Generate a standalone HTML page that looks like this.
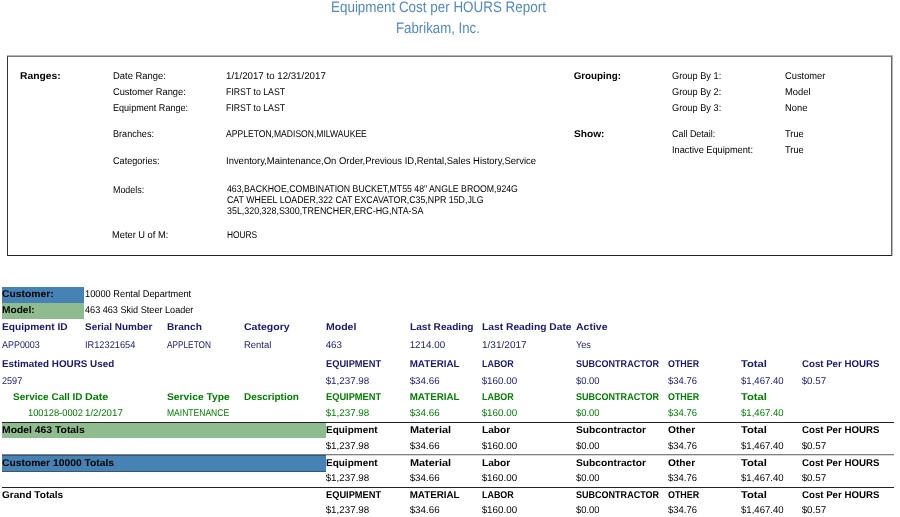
<!DOCTYPE html>
<html><head><meta charset="utf-8"><title>Equipment Cost per HOURS Report</title><style>
html,body{margin:0;padding:0;background:#fff;}
body{width:900px;height:517px;position:relative;overflow:hidden;}
.t{position:absolute;font-family:"Liberation Sans",sans-serif;text-rendering:geometricPrecision;white-space:pre;line-height:1;transform-origin:0 0;}
.b{font-weight:bold;}
.r{position:absolute;}
.L{position:absolute;left:0;top:0;width:900px;height:517px;will-change:transform;}
</style></head><body>
<div class="r" style="left:7px;top:55px;width:885px;height:1px;background:#b4b4b4;"></div>
<div class="r" style="left:892px;top:55px;width:1px;height:201px;background:#b8b8b8;"></div>
<div class="r" style="left:7px;top:56px;width:885px;height:200px;box-sizing:border-box;border-style:solid;border-width:1px;border-color:#787878 #666 #222 #333;"></div>
<div class="r" style="left:2px;top:287px;width:82px;height:16px;background:#4682b4;"></div>
<div class="r" style="left:2px;top:303px;width:82px;height:16px;background:#8fbc8f;"></div>
<div class="r" style="left:2px;top:422px;width:892px;height:1px;background:#222;"></div>
<div class="r" style="left:2px;top:423px;width:324px;height:15px;background:#8fbc8f;"></div>
<div class="r" style="left:2px;top:454px;width:892px;height:1px;background:#808080;"></div>
<div class="r" style="left:2px;top:455px;width:892px;height:1px;background:#d8d8d8;"></div>
<div class="r" style="left:2px;top:455px;width:324px;height:16px;background:#4682b4;"></div>
<div class="r" style="left:2px;top:455px;width:324px;height:1px;background:#2f5a82;"></div>
<div class="r" style="left:2px;top:471px;width:324px;height:1px;background:#3a5570;"></div>
<div class="r" style="left:2px;top:487px;width:892px;height:1px;background:#222;"></div>

<div class="L">
<div class="t" style="left:331.09px;top:0.00px;font-size:15.2px;color:#5089c0;transform:scaleX(0.884);">Equipment Cost per HOURS Report</div>
<div class="t" style="left:396.10px;top:21.00px;font-size:15.2px;color:#5089c0;transform:scaleX(0.872);">Fabrikam, Inc.</div>
<div class="t b" style="left:19.63px;top:72.00px;font-size:9.8px;transform:scaleX(1.054);">Ranges:</div>
<div class="t" style="left:112.71px;top:72.00px;font-size:9.8px;transform:scaleX(0.962);">Date Range:</div>
<div class="t" style="left:225.69px;top:72.00px;font-size:9.8px;transform:scaleX(0.990);">1/1/2017 to 12/31/2017</div>
<div class="t b" style="left:573.68px;top:72.00px;font-size:9.8px;">Grouping:</div>
<div class="t" style="left:671.73px;top:72.00px;font-size:9.8px;transform:scaleX(0.941);">Group By 1:</div>
<div class="t" style="left:784.72px;top:72.00px;font-size:9.8px;transform:scaleX(0.951);">Customer</div>
<div class="t" style="left:112.73px;top:88.00px;font-size:9.8px;transform:scaleX(0.947);">Customer Range:</div>
<div class="t" style="left:225.78px;top:88.00px;font-size:9.8px;transform:scaleX(0.892);">FIRST to LAST</div>
<div class="t" style="left:671.73px;top:88.00px;font-size:9.8px;transform:scaleX(0.941);">Group By 2:</div>
<div class="t" style="left:784.72px;top:88.00px;font-size:9.8px;transform:scaleX(0.960);">Model</div>
<div class="t" style="left:112.75px;top:104.00px;font-size:9.8px;transform:scaleX(0.925);">Equipment Range:</div>
<div class="t" style="left:225.78px;top:104.00px;font-size:9.8px;transform:scaleX(0.892);">FIRST to LAST</div>
<div class="t" style="left:671.73px;top:104.00px;font-size:9.8px;transform:scaleX(0.941);">Group By 3:</div>
<div class="t" style="left:784.72px;top:104.00px;font-size:9.8px;transform:scaleX(0.955);">None</div>
<div class="t" style="left:112.74px;top:130.00px;font-size:9.8px;transform:scaleX(0.930);">Branches:</div>
<div class="t" style="left:225.79px;top:130.00px;font-size:9.8px;transform:scaleX(0.875);">APPLETON,MADISON,MILWAUKEE</div>
<div class="t b" style="left:573.65px;top:130.00px;font-size:9.8px;transform:scaleX(1.036);">Show:</div>
<div class="t" style="left:671.76px;top:130.00px;font-size:9.8px;transform:scaleX(0.913);">Call Detail:</div>
<div class="t" style="left:784.73px;top:130.00px;font-size:9.8px;transform:scaleX(0.947);">True</div>
<div class="t" style="left:671.73px;top:146.00px;font-size:9.8px;transform:scaleX(0.941);">Inactive Equipment:</div>
<div class="t" style="left:784.73px;top:146.00px;font-size:9.8px;transform:scaleX(0.947);">True</div>
<div class="t" style="left:112.74px;top:157.00px;font-size:9.8px;transform:scaleX(0.929);">Categories:</div>
<div class="t" style="left:225.71px;top:157.00px;font-size:9.8px;transform:scaleX(0.966);">Inventory,Maintenance,On Order,Previous ID,Rental,Sales History,Service</div>
<div class="t" style="left:112.76px;top:186.00px;font-size:9.8px;transform:scaleX(0.909);">Models:</div>
<div class="t" style="left:226.78px;top:185.00px;font-size:9.8px;transform:scaleX(0.892);">463,BACKHOE,COMBINATION BUCKET,MT55 48&quot; ANGLE BROOM,924G</div>
<div class="t" style="left:226.77px;top:196.00px;font-size:9.8px;transform:scaleX(0.898);">CAT WHEEL LOADER,322 CAT EXCAVATOR,C35,NPR 15D,JLG</div>
<div class="t" style="left:226.76px;top:207.00px;font-size:9.8px;transform:scaleX(0.907);">35L,320,328,S300,TRENCHER,ERC-HG,NTA-SA</div>
<div class="t" style="left:111.73px;top:231.00px;font-size:9.8px;transform:scaleX(0.948);">Meter U of M:</div>
<div class="t" style="left:226.81px;top:231.00px;font-size:9.8px;transform:scaleX(0.853);">HOURS</div>
<div class="t b" style="left:2.13px;top:290.00px;font-size:9.8px;transform:scaleX(1.053);">Customer:</div>
<div class="t" style="left:84.73px;top:290.00px;font-size:9.8px;transform:scaleX(0.946);">10000 Rental Department</div>
<div class="t b" style="left:2.14px;top:306.00px;font-size:9.8px;transform:scaleX(1.037);">Model:</div>
<div class="t" style="left:84.74px;top:306.00px;font-size:9.8px;transform:scaleX(0.930);">463 463 Skid Steer Loader</div>
<div class="t b" style="left:2.14px;top:323.00px;font-size:9.8px;color:#191970;transform:scaleX(1.040);">Equipment ID</div>
<div class="t b" style="left:84.66px;top:323.00px;font-size:9.8px;color:#191970;transform:scaleX(1.015);">Serial Number</div>
<div class="t b" style="left:166.65px;top:323.00px;font-size:9.8px;color:#191970;transform:scaleX(1.031);">Branch</div>
<div class="t b" style="left:243.61px;top:323.00px;font-size:9.8px;color:#191970;transform:scaleX(1.073);">Category</div>
<div class="t b" style="left:325.61px;top:323.00px;font-size:9.8px;color:#191970;transform:scaleX(1.074);">Model</div>
<div class="t b" style="left:409.65px;top:323.00px;font-size:9.8px;color:#191970;transform:scaleX(1.033);">Last Reading</div>
<div class="t b" style="left:481.63px;top:323.00px;font-size:9.8px;color:#191970;transform:scaleX(1.048);">Last Reading Date</div>
<div class="t b" style="left:575.61px;top:323.00px;font-size:9.8px;color:#191970;transform:scaleX(1.071);">Active</div>
<div class="t" style="left:2.26px;top:341.00px;font-size:9.8px;color:#191970;transform:scaleX(0.912);">APP0003</div>
<div class="t" style="left:84.73px;top:341.00px;font-size:9.8px;color:#191970;transform:scaleX(0.942);">IR12321654</div>
<div class="t" style="left:166.82px;top:341.00px;font-size:9.8px;color:#191970;transform:scaleX(0.843);">APPLETON</div>
<div class="t" style="left:243.71px;top:341.00px;font-size:9.8px;color:#191970;transform:scaleX(0.963);">Rental</div>
<div class="t" style="left:325.68px;top:341.00px;font-size:9.8px;color:#191970;">463</div>
<div class="t" style="left:409.68px;top:341.00px;font-size:9.8px;color:#191970;">1214.00</div>
<div class="t" style="left:481.66px;top:341.00px;font-size:9.8px;color:#191970;transform:scaleX(1.024);">1/31/2017</div>
<div class="t" style="left:575.74px;top:341.00px;font-size:9.8px;color:#191970;transform:scaleX(0.933);">Yes</div>
<div class="t b" style="left:2.17px;top:360.00px;font-size:9.8px;color:#191970;transform:scaleX(1.005);">Estimated HOURS Used</div>
<div class="t b" style="left:325.73px;top:360.00px;font-size:9.8px;color:#191970;transform:scaleX(0.947);">EQUIPMENT</div>
<div class="t b" style="left:409.68px;top:360.00px;font-size:9.8px;color:#191970;">MATERIAL</div>
<div class="t b" style="left:481.76px;top:360.00px;font-size:9.8px;color:#191970;transform:scaleX(0.912);">LABOR</div>
<div class="t b" style="left:575.75px;top:360.00px;font-size:9.8px;color:#191970;transform:scaleX(0.921);">SUBCONTRACTOR</div>
<div class="t b" style="left:667.76px;top:360.00px;font-size:9.8px;color:#191970;transform:scaleX(0.909);">OTHER</div>
<div class="t b" style="left:740.55px;top:360.00px;font-size:9.8px;color:#191970;transform:scaleX(1.143);">Total</div>
<div class="t b" style="left:801.69px;top:360.00px;font-size:9.8px;color:#191970;transform:scaleX(0.987);">Cost Per HOURS</div>
<div class="t" style="left:2.24px;top:377.00px;font-size:9.8px;color:#191970;transform:scaleX(0.929);">2597</div>
<div class="t" style="left:325.68px;top:377.00px;font-size:9.8px;color:#191970;">$1,237.98</div>
<div class="t" style="left:409.68px;top:377.00px;font-size:9.8px;color:#191970;">$34.66</div>
<div class="t" style="left:481.68px;top:377.00px;font-size:9.8px;color:#191970;">$160.00</div>
<div class="t" style="left:575.72px;top:377.00px;font-size:9.8px;color:#191970;transform:scaleX(0.958);">$0.00</div>
<div class="t" style="left:667.71px;top:377.00px;font-size:9.8px;color:#191970;transform:scaleX(0.966);">$34.76</div>
<div class="t" style="left:740.70px;top:377.00px;font-size:9.8px;color:#191970;transform:scaleX(0.977);">$1,467.40</div>
<div class="t" style="left:801.68px;top:377.00px;font-size:9.8px;color:#191970;">$0.57</div>
<div class="t b" style="left:13.16px;top:393.00px;font-size:9.8px;color:#008000;transform:scaleX(1.022);">Service Call ID</div>
<div class="t b" style="left:84.59px;top:393.00px;font-size:9.8px;color:#008000;transform:scaleX(1.100);">Date</div>
<div class="t b" style="left:166.63px;top:393.00px;font-size:9.8px;color:#008000;transform:scaleX(1.051);">Service Type</div>
<div class="t b" style="left:243.66px;top:393.00px;font-size:9.8px;color:#008000;transform:scaleX(1.019);">Description</div>
<div class="t b" style="left:325.73px;top:393.00px;font-size:9.8px;color:#008000;transform:scaleX(0.947);">EQUIPMENT</div>
<div class="t b" style="left:409.68px;top:393.00px;font-size:9.8px;color:#008000;">MATERIAL</div>
<div class="t b" style="left:481.76px;top:393.00px;font-size:9.8px;color:#008000;transform:scaleX(0.912);">LABOR</div>
<div class="t b" style="left:575.75px;top:393.00px;font-size:9.8px;color:#008000;transform:scaleX(0.921);">SUBCONTRACTOR</div>
<div class="t b" style="left:667.76px;top:393.00px;font-size:9.8px;color:#008000;transform:scaleX(0.909);">OTHER</div>
<div class="t b" style="left:740.55px;top:393.00px;font-size:9.8px;color:#008000;transform:scaleX(1.143);">Total</div>
<div class="t" style="left:28.42px;top:409.00px;font-size:9.8px;color:#008000;transform:scaleX(0.952);">100128-0002</div>
<div class="t" style="left:84.69px;top:409.00px;font-size:9.8px;color:#008000;transform:scaleX(0.992);">1/2/2017</div>
<div class="t" style="left:166.80px;top:409.00px;font-size:9.8px;color:#008000;transform:scaleX(0.871);">MAINTENANCE</div>
<div class="t" style="left:325.68px;top:409.00px;font-size:9.8px;color:#008000;">$1,237.98</div>
<div class="t" style="left:409.68px;top:409.00px;font-size:9.8px;color:#008000;">$34.66</div>
<div class="t" style="left:481.68px;top:409.00px;font-size:9.8px;color:#008000;">$160.00</div>
<div class="t" style="left:575.72px;top:409.00px;font-size:9.8px;color:#008000;transform:scaleX(0.958);">$0.00</div>
<div class="t" style="left:667.71px;top:409.00px;font-size:9.8px;color:#008000;transform:scaleX(0.966);">$34.76</div>
<div class="t" style="left:740.70px;top:409.00px;font-size:9.8px;color:#008000;transform:scaleX(0.977);">$1,467.40</div>
<div class="t b" style="left:2.12px;top:426.00px;font-size:9.8px;transform:scaleX(1.058);">Model 463 Totals</div>
<div class="t b" style="left:325.66px;top:426.00px;font-size:9.8px;transform:scaleX(1.020);">Equipment</div>
<div class="t b" style="left:409.58px;top:426.00px;font-size:9.8px;transform:scaleX(1.111);">Material</div>
<div class="t b" style="left:481.64px;top:426.00px;font-size:9.8px;transform:scaleX(1.038);">Labor</div>
<div class="t b" style="left:575.64px;top:426.00px;font-size:9.8px;transform:scaleX(1.045);">Subcontractor</div>
<div class="t b" style="left:667.64px;top:426.00px;font-size:9.8px;transform:scaleX(1.040);">Other</div>
<div class="t b" style="left:740.55px;top:426.00px;font-size:9.8px;transform:scaleX(1.143);">Total</div>
<div class="t b" style="left:801.69px;top:426.00px;font-size:9.8px;transform:scaleX(0.987);">Cost Per HOURS</div>
<div class="t" style="left:325.68px;top:442.00px;font-size:9.8px;">$1,237.98</div>
<div class="t" style="left:409.68px;top:442.00px;font-size:9.8px;">$34.66</div>
<div class="t" style="left:481.68px;top:442.00px;font-size:9.8px;">$160.00</div>
<div class="t" style="left:575.72px;top:442.00px;font-size:9.8px;transform:scaleX(0.958);">$0.00</div>
<div class="t" style="left:667.71px;top:442.00px;font-size:9.8px;transform:scaleX(0.966);">$34.76</div>
<div class="t" style="left:740.70px;top:442.00px;font-size:9.8px;transform:scaleX(0.977);">$1,467.40</div>
<div class="t" style="left:801.68px;top:442.00px;font-size:9.8px;">$0.57</div>
<div class="t b" style="left:2.13px;top:459.00px;font-size:9.8px;transform:scaleX(1.052);">Customer 10000 Totals</div>
<div class="t b" style="left:325.66px;top:459.00px;font-size:9.8px;transform:scaleX(1.020);">Equipment</div>
<div class="t b" style="left:409.58px;top:459.00px;font-size:9.8px;transform:scaleX(1.111);">Material</div>
<div class="t b" style="left:481.64px;top:459.00px;font-size:9.8px;transform:scaleX(1.038);">Labor</div>
<div class="t b" style="left:575.64px;top:459.00px;font-size:9.8px;transform:scaleX(1.045);">Subcontractor</div>
<div class="t b" style="left:667.64px;top:459.00px;font-size:9.8px;transform:scaleX(1.040);">Other</div>
<div class="t b" style="left:740.55px;top:459.00px;font-size:9.8px;transform:scaleX(1.143);">Total</div>
<div class="t b" style="left:801.69px;top:459.00px;font-size:9.8px;transform:scaleX(0.987);">Cost Per HOURS</div>
<div class="t" style="left:325.68px;top:474.00px;font-size:9.8px;">$1,237.98</div>
<div class="t" style="left:409.68px;top:474.00px;font-size:9.8px;">$34.66</div>
<div class="t" style="left:481.68px;top:474.00px;font-size:9.8px;">$160.00</div>
<div class="t" style="left:575.72px;top:474.00px;font-size:9.8px;transform:scaleX(0.958);">$0.00</div>
<div class="t" style="left:667.71px;top:474.00px;font-size:9.8px;transform:scaleX(0.966);">$34.76</div>
<div class="t" style="left:740.70px;top:474.00px;font-size:9.8px;transform:scaleX(0.977);">$1,467.40</div>
<div class="t" style="left:801.68px;top:474.00px;font-size:9.8px;">$0.57</div>
<div class="t b" style="left:2.15px;top:491.00px;font-size:9.8px;transform:scaleX(1.025);">Grand Totals</div>
<div class="t b" style="left:325.73px;top:491.00px;font-size:9.8px;transform:scaleX(0.947);">EQUIPMENT</div>
<div class="t b" style="left:409.68px;top:491.00px;font-size:9.8px;">MATERIAL</div>
<div class="t b" style="left:481.76px;top:491.00px;font-size:9.8px;transform:scaleX(0.912);">LABOR</div>
<div class="t b" style="left:575.75px;top:491.00px;font-size:9.8px;transform:scaleX(0.921);">SUBCONTRACTOR</div>
<div class="t b" style="left:667.76px;top:491.00px;font-size:9.8px;transform:scaleX(0.909);">OTHER</div>
<div class="t b" style="left:740.55px;top:491.00px;font-size:9.8px;transform:scaleX(1.143);">Total</div>
<div class="t b" style="left:801.69px;top:491.00px;font-size:9.8px;transform:scaleX(0.987);">Cost Per HOURS</div>
<div class="t" style="left:325.68px;top:506.00px;font-size:9.8px;">$1,237.98</div>
<div class="t" style="left:409.68px;top:506.00px;font-size:9.8px;">$34.66</div>
<div class="t" style="left:481.68px;top:506.00px;font-size:9.8px;">$160.00</div>
<div class="t" style="left:575.72px;top:506.00px;font-size:9.8px;transform:scaleX(0.958);">$0.00</div>
<div class="t" style="left:667.71px;top:506.00px;font-size:9.8px;transform:scaleX(0.966);">$34.76</div>
<div class="t" style="left:740.70px;top:506.00px;font-size:9.8px;transform:scaleX(0.977);">$1,467.40</div>
<div class="t" style="left:801.68px;top:506.00px;font-size:9.8px;">$0.57</div>
</div>
</body></html>
